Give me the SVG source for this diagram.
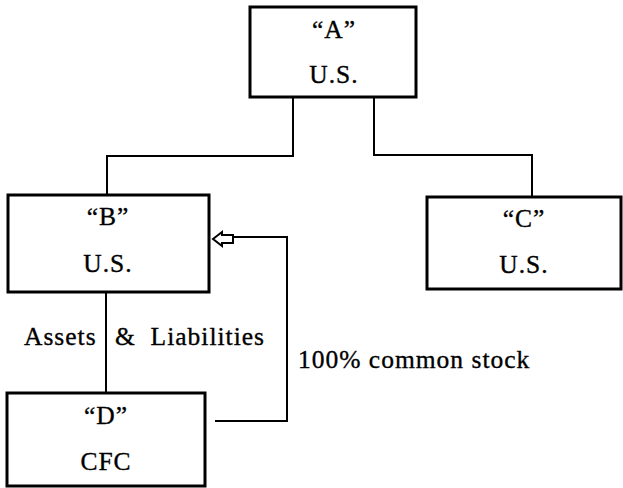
<svg xmlns="http://www.w3.org/2000/svg" width="623" height="488" viewBox="0 0 623 488">
<style>
.box{fill:#fff;stroke:#000;stroke-width:3}
.ln{fill:none;stroke:#000;stroke-width:2}
text{font-family:"Liberation Serif","Times New Roman",serif;font-size:25.5px;fill:#000;stroke:#000;stroke-width:0.35;letter-spacing:1px;white-space:pre}
.c{text-anchor:middle}
</style>
<rect width="623" height="488" fill="#fff"/>
<g id="connectors">
<polyline class="ln" points="293,97 293,156 107,156 107,195"/>
<polyline class="ln" points="374,97 374,155 532,155 532,197"/>
<line class="ln" x1="106" y1="292" x2="106" y2="393"/>
<polyline class="ln" points="215,421 287,421 287,237 233,237"/>
<polygon fill="#fff" stroke="#000" stroke-width="2" points="213,239 222,232 222,235 233,235 233,243 222,243 222,246"/>
</g>
<g id="nodeA">
<rect class="box" x="250" y="7" width="166" height="90"/>
<text class="c" x="334" y="38">“A”</text>
<text class="c" x="334" y="83">U.S.</text>
</g>
<g id="nodeB">
<rect class="box" x="8" y="195" width="201" height="97"/>
<text class="c" x="108" y="225">“B”</text>
<text class="c" x="108" y="272">U.S.</text>
</g>
<g id="nodeC">
<rect class="box" x="427" y="197" width="194" height="92"/>
<text class="c" x="524" y="227">“C”</text>
<text class="c" x="524" y="273">U.S.</text>
</g>
<g id="nodeD">
<rect class="box" x="7" y="393" width="198" height="93"/>
<text class="c" x="106" y="424">“D”</text>
<text class="c" x="106" y="470">CFC</text>
</g>
<g id="labels">
<text x="24" y="345">Assets</text>
<text x="115" y="345" xml:space="preserve">&amp;  Liabilities</text>
<text x="298" y="368">100% common stock</text>
</g>
</svg>
